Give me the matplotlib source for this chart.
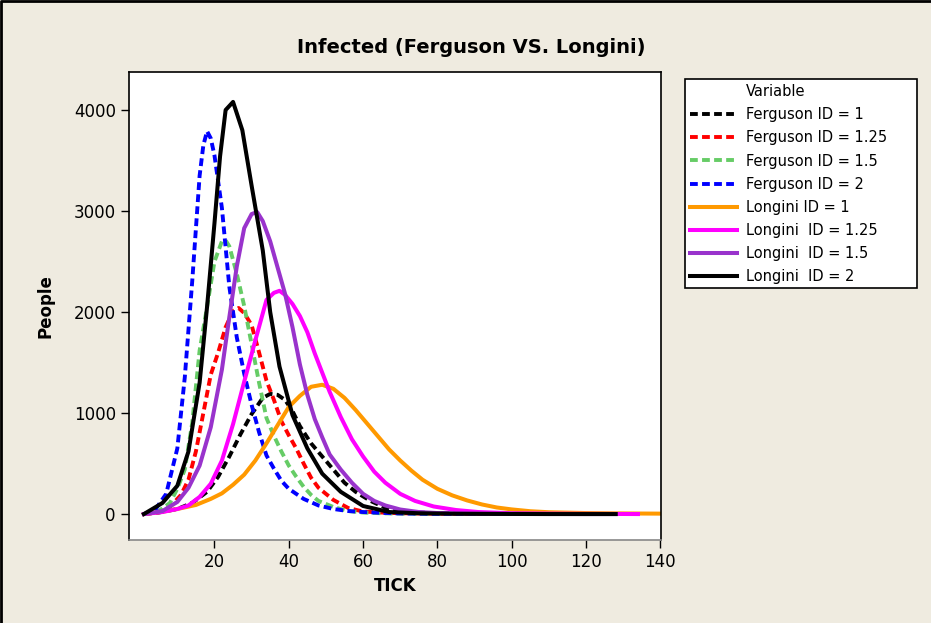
import matplotlib
matplotlib.use("Agg")
import matplotlib.pyplot as plt
from matplotlib.lines import Line2D
from matplotlib.patches import Rectangle

# Ferguson curves
f1_x = [1, 5, 10, 14, 18, 21, 24, 27, 30, 33, 35, 37, 39, 41, 43, 46, 49, 52, 55, 58, 62, 67, 72, 80, 90, 100, 110, 120, 128]
f1_y = [0, 15, 50, 110, 220, 370, 570, 790, 990, 1150, 1190, 1180, 1130, 1020, 870, 700, 570, 440, 310, 220, 130, 45, 20, 8, 4, 2, 1, 0, 0]

f125_x = [1, 5, 8, 11, 13, 15, 17, 19, 21, 23, 25, 26.5, 28, 30, 32, 34, 36, 38, 40, 42, 44, 46, 48, 52, 56, 60, 65, 70, 80, 90, 100, 110, 120, 128]
f125_y = [0, 20, 70, 190, 340, 620, 1000, 1380, 1600, 1850, 2010, 2040, 1990, 1870, 1600, 1320, 1130, 920, 780, 650, 500, 360, 260, 140, 60, 25, 15, 8, 3, 1, 0, 0, 0, 0]

f15_x = [1, 5, 8, 10, 12, 14, 16, 18, 20, 22, 23, 24, 26, 28, 30, 32, 34, 36, 38, 40, 42, 44, 46, 48, 52, 56, 60, 65, 70, 80, 90, 100, 110, 120, 128]
f15_y = [0, 30, 110, 250, 440, 900, 1620, 2050, 2500, 2700, 2710, 2650, 2380, 2060, 1680, 1300, 950, 775, 620, 480, 370, 270, 190, 130, 70, 30, 15, 8, 4, 1, 0, 0, 0, 0, 0]

f2_x = [1, 4, 7, 10, 12, 14, 16, 17, 18, 19, 20, 22, 24, 26, 28, 30, 32, 34, 36, 38, 40, 44, 48, 52, 56, 60, 65, 70, 80, 90, 100, 110, 120, 128]
f2_y = [0, 40, 200, 650, 1350, 2300, 3350, 3650, 3790, 3720, 3550, 3030, 2250, 1750, 1390, 1080, 810, 580, 450, 330, 250, 150, 85, 50, 30, 20, 12, 6, 2, 1, 0, 0, 0, 0]

# Longini curves
l1_x = [1, 6, 10, 15, 19, 22, 25, 28, 31, 34, 37, 40, 43, 46, 49, 52, 55, 58, 61, 64, 67, 70, 73, 76, 80, 84, 88, 92, 96, 100, 105, 110, 120, 130, 141]
l1_y = [0, 23, 50, 90, 150, 205, 290, 390, 530, 700, 880, 1060, 1170, 1260, 1280, 1240, 1150, 1030, 900, 770, 640, 530, 430, 340, 250, 185, 135, 95, 65, 46, 28, 18, 10, 6, 4]

l125_x = [1, 6, 10, 13, 16, 19, 22, 25, 28, 31, 34, 36, 37.5, 39, 41, 43, 45, 47, 49, 51, 54, 57, 60, 63, 66, 70, 74, 79, 85, 91, 100, 110, 120, 128, 134]
l125_y = [0, 20, 50, 85, 170, 300, 530, 890, 1310, 1720, 2120, 2190, 2210, 2170, 2080, 1960, 1800, 1590, 1400, 1210, 960, 740, 570, 420, 310, 200, 130, 75, 40, 20, 8, 4, 2, 1, 0]

l15_x = [1, 6, 10, 13, 16, 19, 22, 24, 26, 28, 30, 31.5, 33, 35, 37, 39, 41, 43, 45, 47, 49, 51, 54, 57, 60, 63, 66, 70, 75, 80, 90, 100, 110, 120, 128]
l15_y = [0, 30, 120, 260, 480, 860, 1430, 1950, 2450, 2830, 2970, 2990, 2900, 2700, 2440, 2180, 1850, 1480, 1180, 940, 760, 590, 440, 310, 200, 130, 85, 45, 20, 10, 4, 2, 1, 0, 0]

l2_x = [1, 6, 10, 13, 16, 18, 20, 21.5, 23, 25, 27.5, 30, 33, 35, 37.5, 41, 45, 49, 54, 60, 67, 75, 85, 100, 110, 120, 128]
l2_y = [0, 110, 280, 620, 1300, 2050, 2880, 3540, 4000, 4080, 3800, 3250, 2610, 2000, 1460, 980, 650, 400, 220, 80, 20, 8, 3, 1, 0, 0, 0]

series = [
    ("Ferguson ID = 1", f1_x, f1_y, "black", True),
    ("Ferguson ID = 1.25", f125_x, f125_y, "#ff0000", True),
    ("Ferguson ID = 1.5", f15_x, f15_y, "#66cc66", True),
    ("Ferguson ID = 2", f2_x, f2_y, "#0000ff", True),
    ("Longini ID = 1", l1_x, l1_y, "#ff9900", False),
    ("Longini  ID = 1.25", l125_x, l125_y, "#ff00ff", False),
    ("Longini  ID = 1.5", l15_x, l15_y, "#9933cc", False),
    ("Longini  ID = 2", l2_x, l2_y, "black", False),
]

bg = "#efebe0"
fig = plt.figure(figsize=(9.31, 6.23), dpi=100, facecolor=bg)
# outer frame: only left and top edges are visible in the original
fig.add_artist(Line2D([0.001, 0.001, 1], [0, 0.999, 0.999], transform=fig.transFigure,
                      color="black", lw=2))
ax = fig.add_axes([0.1386, 0.1332, 0.5714, 0.7512])
ax.set_facecolor("white")

handles = [Line2D([], [], color="none", label="Variable")]
for label, xs, ys, col, dashed in series:
    if dashed:
        ln, = ax.plot(xs, ys, color=col, lw=2.8, dashes=(2.0, 1.1), label=label)
    else:
        ln, = ax.plot(xs, ys, color=col, lw=2.9, label=label)
    handles.append(ln)

ax.set_xlim(-3, 140.2)
ax.set_ylim(-257, 4376)
ax.set_xticks([20, 40, 60, 80, 100, 120, 140])
ax.set_yticks([0, 1000, 2000, 3000, 4000])
ax.tick_params(direction="out", length=6, width=1, labelsize=12, top=False, right=False)
for s in ax.spines.values():
    s.set_color("black")
    s.set_linewidth(1.2)
ax.spines["bottom"].set_color("#888888")

ax.set_xlabel("TICK", fontsize=12, fontweight="bold")
ax.set_ylabel("People", fontsize=12, fontweight="bold", labelpad=14)
fig.text(0.506, 0.923, "Infected (Ferguson VS. Longini)", fontsize=14,
         fontweight="bold", ha="center", va="center")

# legend box drawn separately so its right margin matches the original
fig.add_artist(Rectangle((0.7358, 0.5377), 0.2492, 0.3355, transform=fig.transFigure,
                         facecolor="white", edgecolor="black", lw=1.2))
leg = fig.legend(handles=handles, loc="upper left", bbox_to_anchor=(0.7358, 0.8732),
                 fontsize=10.5, frameon=False, handlelength=3.2,
                 handletextpad=0.6, labelspacing=0.56, borderpad=0.35, borderaxespad=0)

fig.savefig("out.png", dpi=100, facecolor=bg)
